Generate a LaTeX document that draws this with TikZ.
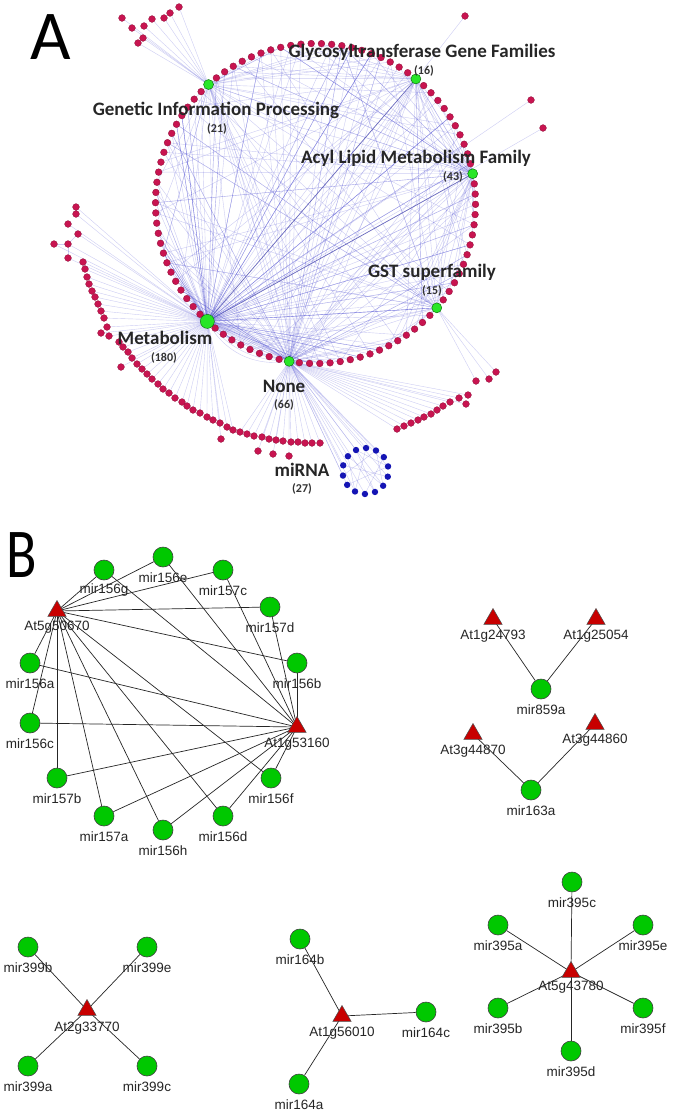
\documentclass[tikz,border=0pt]{standalone}
\usepackage{fontspec}
\setmainfont{Liberation Sans}
\newfontfamily\calibf{Carlito}
\usetikzlibrary{shapes.geometric}
\pgfdeclarelayer{back}
\pgfdeclarelayer{bg}
\pgfsetlayers{back,bg,main}
\definecolor{crim}{RGB}{200,20,80}
\definecolor{hubg}{RGB}{40,230,40}
\definecolor{edgeb}{RGB}{90,90,215}
\definecolor{mirg}{RGB}{0,200,0}
\definecolor{trired}{RGB}{200,0,0}
\definecolor{bdot}{RGB}{20,20,180}
\newcommand\mirn[4]{\node[mir] (#1) at (#2,#3) {}; \node[labB] (#1-l) at (#2,#3+20.5) {#4};}
\newcommand\tgtn[5]{\node[tgt] (#1) at (#2,#3) {}; \node[labB] (#1-l) at (#2,#4) {#5};}
\begin{document}
\begin{tikzpicture}[x=1pt,y=-1pt,
  edgeA/.style={draw=edgeb,line width=0.4pt,opacity=0.3},
  darkA/.style={draw=edgeb!80!black,line width=0.7pt,opacity=0.75},
  dotA/.style={circle,fill=crim,draw=crim!70!black,line width=0.3pt,inner sep=0pt,minimum size=6.8pt},
  hubA/.style={circle,fill=hubg,draw=green!40!black,line width=0.4pt,inner sep=0pt,minimum size=10pt},
  bluedot/.style={circle,fill=bdot,inner sep=0pt,minimum size=6.4pt},
  labA/.style={font=\calibf\bfseries\fontsize{19}{21}\selectfont,text=black!85,inner sep=0pt},
  numA/.style={font=\calibf\bfseries\fontsize{12}{13}\selectfont,text=black!80,inner sep=0pt},
  panel/.style={font=\calibf\fontsize{70}{72}\selectfont,inner sep=0pt},
  mir/.style={circle,fill=mirg,draw=black!75,line width=0.6pt,inner sep=0pt,minimum size=20pt},
  tgt/.style={regular polygon,regular polygon sides=3,fill=trired,draw=black!70,line width=0.5pt,inner sep=0pt,minimum size=21pt},
  labB/.style={font=\fontsize{13.5}{14}\selectfont,text=black!85,inner sep=0pt},
  edgeB/.style={draw=black!85,line width=0.7pt},
]
\begin{pgfonlayer}{back}
\fill[white] (0,0) rectangle (673,1114);
\end{pgfonlayer}
\useasboundingbox (0,0) rectangle (673,1114);

% ---------------- Panel A ----------------
\node[panel] (pA) at (51,37) {A};

\foreach \k in {0,...,97} {
  \pgfmathsetmacro\ang{40.7+\k*3.673469}
  \coordinate (d\k) at ({315.5+160*cos(\ang)},{203.5+160*sin(\ang)});
}
\foreach \k in {0,...,13} {
  \pgfmathsetmacro\ang{-114.3+\k*25.714}
  \coordinate (b\k) at ({365.5+23*cos(\ang)},{471+23*sin(\ang)});
}
\foreach [count=\i] \x/\y in {122/18,132/28,144/26,152/19,164/18,170/13,179/7,143/38,138/43}
  \coordinate (tl\i) at (\x,\y);
\foreach [count=\i] \x/\y in {465/16,531/100,543/128}
  \coordinate (tr\i) at (\x,\y);
\foreach [count=\i] \x/\y in {76/207,76/214,68/224,78/234,54/244,68/244,68/258}
  \coordinate (lc\i) at (\x,\y);
\foreach [count=\i] \x/\y in {83/262,85/269,87/277,89/284,92/291,95/297,98/304,101/311,104/318,107/327,101/333,109/336,119/342,123/347,128/352,132/358,137/364,142/369,147/374,152/379,158/384,163/389,169/393,175/398,182/402,187/406,193/410,200/413,207/417,213/420,220/423,227/427,233/430,121/367,221/439}
  \coordinate (la\i) at (\x,\y);
\foreach [count=\i] \x/\y in {240/432,247/434,254/436,262/437,269/439,276/440,283/441,291/442,298/442,305/443,312/443,320/443,258/451,273/454,289/456}
  \coordinate (lb\i) at (\x,\y);
\foreach [count=\i] \x/\y in {496/372,489/379,476/381}
  \coordinate (rs\i) at (\x,\y);
\foreach [count=\i] \x/\y in {397/429,404/426,411/423,418/420,424/417,431/414,437/410,443/406,450/402,459/398,468/395,466/404}
  \coordinate (ra\i) at (\x,\y);

\begin{pgfonlayer}{bg}
\pgfmathsetseed{7}
\foreach \h/\n in {25/115,16/60,84/45,73/28,51/32,0/26}{
  \foreach \i in {1,...,\n}{
    \pgfmathtruncatemacro\k{random(0,97)}
    \draw[edgeA] (d\h) -- (d\k);
  }
}
\draw[edgeA] (d25) to[bend right=25] (d16);
\draw[edgeA] (d25) to[bend right=35] (d16);
\draw[edgeA] (d25) to[bend right=15] (d17);
\draw[darkA] (d25) -- (d73);
\draw[darkA] (d25) -- (d84);
\foreach \i in {1,...,9} \draw[edgeA] (tl\i) -- (d51);
\draw[edgeA] (tr1) -- (d73);
\draw[edgeA] (tr2) -- (d25);
\draw[edgeA] (tr3) -- (d25);
\foreach \i in {1,...,7} \draw[edgeA] (lc\i) -- (d25);
\draw[edgeA] (lc5) -- (lc6) -- (lc7);
\draw[edgeA] (lc6) -- (lc4);
\draw[edgeA] (lc1) -- (lc2);
\foreach \i in {1,...,35} \draw[edgeA] (la\i) -- (d25);
\foreach \i in {1,...,15} \draw[edgeA] (lb\i) -- (d16);
\foreach \i in {1,...,3} \draw[edgeA] (rs\i) -- (d0);
\foreach \i in {1,...,12} \draw[edgeA] (ra\i) -- (d16);
\foreach \i in {0,...,13} \draw[edgeA] (b\i) -- (d16);
\foreach \p/\q in {0/7,1/9,2/11,3/8,4/10,12/5,13/6,0/4,9/13,2/6}
  \draw[edgeA] (b\p) -- (b\q);
\end{pgfonlayer}

\foreach \k in {0,...,97} \node[dotA] (n\k) at (d\k) {};
\foreach \i in {1,...,9} \node[dotA] (ntl\i) at (tl\i) {};
\foreach \i in {1,...,3} \node[dotA] (ntr\i) at (tr\i) {};
\foreach \i in {1,...,7} \node[dotA] (nlc\i) at (lc\i) {};
\foreach \i in {1,...,35} \node[dotA] (nla\i) at (la\i) {};
\foreach \i in {1,...,15} \node[dotA] (nlb\i) at (lb\i) {};
\foreach \i in {1,...,3} \node[dotA] (nrs\i) at (rs\i) {};
\foreach \i in {1,...,12} \node[dotA] (nra\i) at (ra\i) {};
\foreach \i in {0,...,13} \node[bluedot] (nb\i) at (b\i) {};

\node[hubA] (hgst) at (d0) {};
\node[hubA] (hnone) at (d16) {};
\node[hubA,minimum size=14pt] (hmet) at (d25) {};
\node[hubA] (hgip) at (d51) {};
\node[hubA] (hgly) at (d73) {};
\node[hubA] (hacyl) at (d84) {};

\node[labA] (lgly) at (422,52) {Glycosyltransferase Gene Families};
\node[numA] (ngly) at (424,71) {(16)};
\node[labA] (lgip) at (216,110) {Genetic Information Processing};
\node[numA] (ngip) at (217,129) {(21)};
\node[labA] (lacyl) at (416,158) {Acyl Lipid Metabolism Family};
\node[numA] (nacyl) at (453,177) {(43)};
\node[labA] (lgst) at (432,272) {GST superfamily};
\node[numA] (ngst) at (432,291) {(15)};
\node[labA] (lmet) at (165,338) {Metabolism};
\node[numA] (nmet) at (164,358) {(180)};
\node[labA] (lnone) at (284,386) {None};
\node[numA] (nnone) at (284,405) {(66)};
\node[labA] (lmir) at (302,470) {miRNA};
\node[numA] (nmir) at (302,489) {(27)};

% ---------------- Panel B ----------------
\node[panel,xscale=0.8] (pB) at (22,555) {B};

\mirn{m156g}{104}{570}{mir156g}
\mirn{m156e}{163}{557}{mir156e}
\mirn{m157c}{223}{570}{mir157c}
\mirn{m157d}{270}{607}{mir157d}
\mirn{m156a}{30}{663}{mir156a}
\mirn{m156b}{297}{663}{mir156b}
\mirn{m156c}{30}{723}{mir156c}
\mirn{m157b}{57}{778}{mir157b}
\mirn{m156f}{271}{778}{mir156f}
\mirn{m157a}{104}{816}{mir157a}
\mirn{m156d}{223}{816}{mir156d}
\mirn{m156h}{163}{830}{mir156h}
\tgtn{tA}{57}{611}{627}{At5g50670}
\tgtn{tB}{297}{727}{744}{At1g53160}

\tgtn{t24793}{493}{619}{636}{At1g24793}
\tgtn{t25054}{596}{619}{636}{At1g25054}
\mirn{m859a}{541}{689}{mir859a}
\tgtn{t44870}{473}{734}{751}{At3g44870}
\tgtn{t44860}{595}{724}{740}{At3g44860}
\mirn{m163a}{531}{790}{mir163a}

\mirn{m399b}{28}{947}{mir399b}
\mirn{m399e}{147}{947}{mir399e}
\tgtn{t33770}{87}{1010}{1028}{At2g33770}
\mirn{m399a}{28}{1066}{mir399a}
\mirn{m399c}{147}{1066}{mir399c}

\mirn{m164b}{300}{939}{mir164b}
\tgtn{t56010}{342}{1016}{1033}{At1g56010}
\mirn{m164c}{426}{1012}{mir164c}
\mirn{m164a}{299}{1084}{mir164a}

\mirn{m395c}{572}{882}{mir395c}
\mirn{m395a}{498}{925}{mir395a}
\mirn{m395e}{643}{925}{mir395e}
\tgtn{t43780}{571}{972}{987}{At5g43780}
\mirn{m395b}{498}{1008}{mir395b}
\mirn{m395f}{643}{1008}{mir395f}
\mirn{m395d}{571}{1051}{mir395d}

\begin{pgfonlayer}{bg}
\foreach \m in {m156g,m156e,m157c,m157d,m156a,m156b,m156c,m157b,m156f,m157a,m156d,m156h}{
  \draw[edgeB] (tA.center) -- (\m);
  \draw[edgeB] (tB.center) -- (\m);
}
\draw[edgeB] (m859a) -- (t24793.center);
\draw[edgeB] (m859a) -- (t25054.center);
\draw[edgeB] (m163a) -- (t44870.center);
\draw[edgeB] (m163a) -- (t44860.center);
\foreach \m in {m399b,m399e,m399a,m399c} \draw[edgeB] (t33770.center) -- (\m);
\foreach \m in {m164b,m164c,m164a} \draw[edgeB] (t56010.center) -- (\m);
\foreach \m in {m395c,m395a,m395e,m395b,m395f,m395d} \draw[edgeB] (t43780.center) -- (\m);
\end{pgfonlayer}
\end{tikzpicture}
\end{document}
